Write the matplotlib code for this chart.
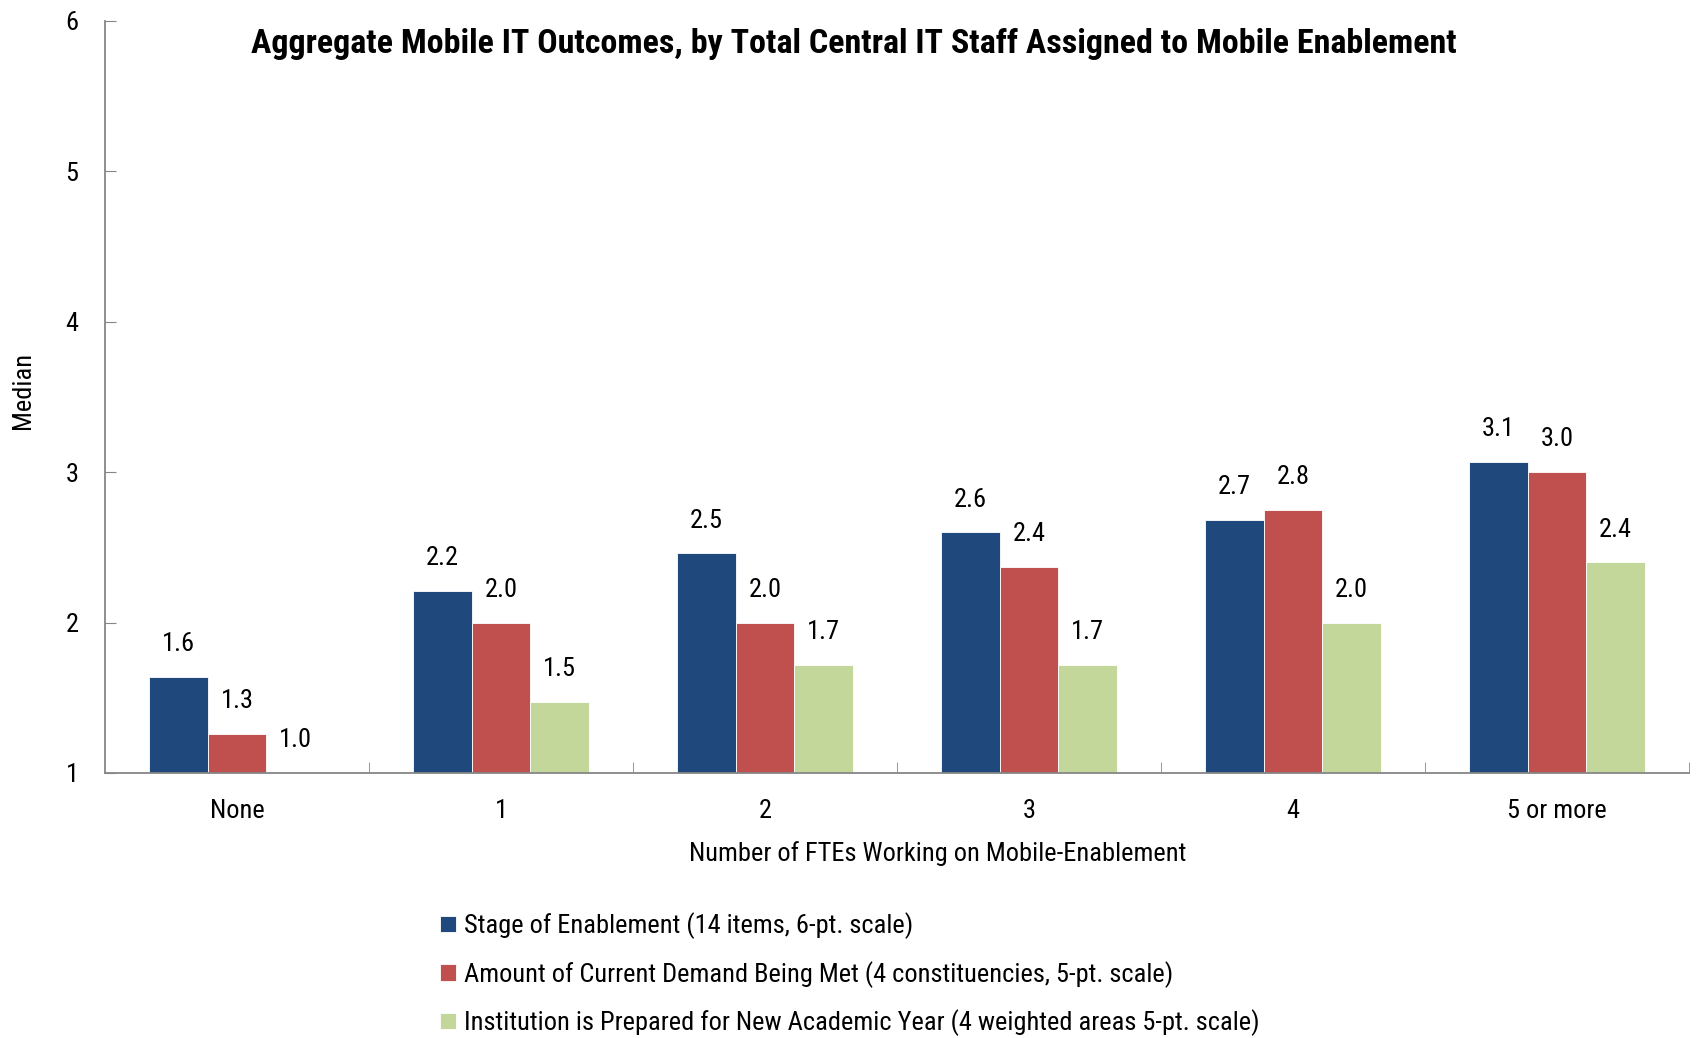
import numpy as np
import matplotlib
matplotlib.use("Agg")
import matplotlib.pyplot as plt
from matplotlib import font_manager

# procura uma fonte estreita; senao usa Liberation Sans
fonte = 'Liberation Sans'
estreita = False
for candidata in ['Liberation Sans Narrow', 'Roboto Condensed', 'Open Sans Condensed',
                  'Noto Sans Condensed', 'Arial Narrow']:
    try:
        font_manager.findfont(candidata, fallback_to_default=False)
        fonte = candidata
        estreita = True
        break
    except Exception:
        pass
plt.rcParams['font.family'] = [fonte, 'DejaVu Sans']
tam = 19 if estreita else 16.5
tam_titulo = 24.5 if estreita else 19.5

# --- dados ---
categorias = ['None', '1', '2', '3', '4', '5 or more']
estagio = [1.64, 2.21, 2.46, 2.60, 2.68, 3.07]
demanda = [1.26, 2.00, 2.00, 2.37, 2.75, 3.00]
preparada = [1.00, 1.47, 1.72, 1.72, 2.00, 2.40]
nomes_series = ['Stage of Enablement (14 items, 6-pt. scale)',
                'Amount of Current Demand Being Met (4 constituencies, 5-pt. scale)',
                'Institution is Prepared for New Academic Year (4 weighted areas 5-pt. scale)']
cores = ['#1F497D', '#C0504D', '#C4D79B']

fig = plt.figure(figsize=(16.98, 10.38), dpi=100)
ax = fig.add_axes([0.0618, 0.2553, 0.9329, 0.7245])

x = np.arange(len(categorias))
largura = 0.222
base = 1
for i, (serie, cor, nome) in enumerate(zip([estagio, demanda, preparada], cores, nomes_series)):
    pos = x + (i - 1) * largura
    alturas = np.array(serie) - base
    ax.bar(pos, alturas, largura, bottom=base, color=cor, edgecolor='white',
           linewidth=0.6, label=nome)
    for p, v in zip(pos, serie):
        ax.annotate(f'{v:.1f}', (p, v), xytext=(0, 15), textcoords='offset points',
                    ha='center', va='bottom', fontsize=tam)

ax.set_xlim(-0.5, len(categorias) - 0.5)
ax.set_ylim(1, 6)
ax.set_yticks([1, 2, 3, 4, 5, 6])
ax.set_xticks(x)
ax.set_xticklabels(categorias, fontsize=tam)
ax.set_xticks(np.arange(0.5, len(categorias), 1), minor=True)
ax.tick_params(axis='x', which='major', length=0, pad=19)
ax.tick_params(axis='x', which='minor', direction='in', length=8, color='#868686')
ax.tick_params(axis='y', direction='in', length=8, color='#868686', labelsize=tam, pad=19)

for lado in ['top', 'right']:
    ax.spines[lado].set_visible(False)
for lado in ['left', 'bottom']:
    ax.spines[lado].set_color('#868686')
    ax.spines[lado].set_linewidth(1.3)

fig.text(0.503, 0.958, 'Aggregate Mobile IT Outcomes, by Total Central IT Staff Assigned to Mobile Enablement',
         ha='center', va='center', fontsize=tam_titulo, fontweight='bold')
fig.text(0.552, 0.178, 'Number of FTEs Working on Mobile-Enablement', ha='center', va='center', fontsize=tam)
fig.text(0.0135, 0.624, 'Median', rotation=90, ha='center', va='center', fontsize=tam)

fig.legend(loc='upper left', bbox_to_anchor=(0.259, 0.121), frameon=False, fontsize=tam,
           handlelength=0.6, handleheight=0.6, handletextpad=0.3, labelspacing=0.82,
           borderaxespad=0, borderpad=0)

fig.savefig('out.png', dpi=100)
